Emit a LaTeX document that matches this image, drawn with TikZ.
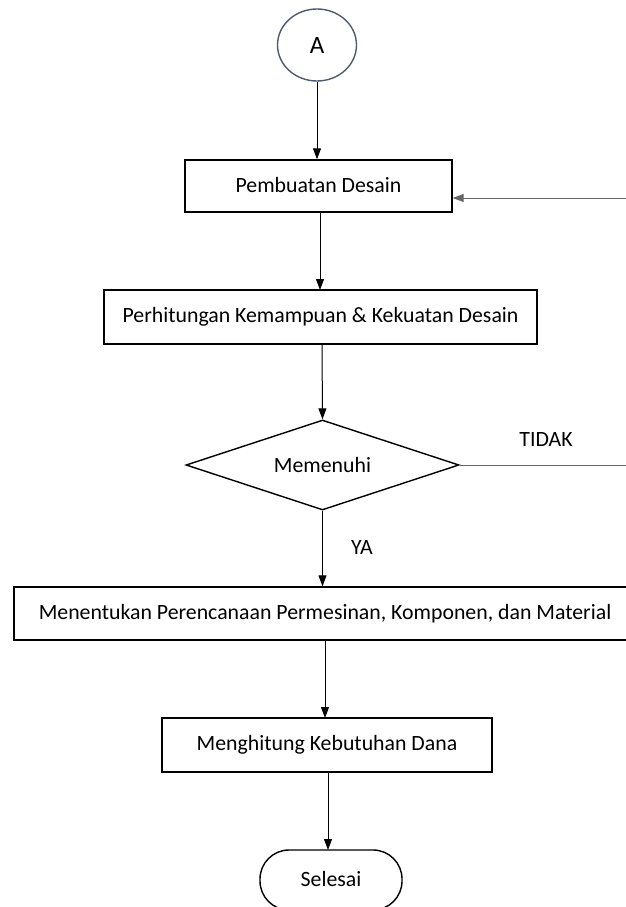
\documentclass[tikz,border=0pt]{standalone}
\usepackage{fontspec}
\setmainfont{Carlito}
\usetikzlibrary{arrows.meta,shapes.geometric}
\begin{document}
\begin{tikzpicture}[x=1pt,y=-1pt,
  every node/.style={font=\fontsize{21.8}{26}\selectfont, text=black},
  procbox/.style={draw, line width=1.4pt, rectangle, inner sep=0pt},
  flow/.style={line width=1pt, -{Triangle[length=11pt,width=8pt]}},
  plain/.style={line width=1pt, draw=black!60}]
\useasboundingbox (0,0) rectangle (626,907);
\fill[white] (0,0) rectangle (626,907);
\node[draw={rgb,255:red,80;green,92;blue,110}, line width=1.4pt, ellipse, minimum width=79pt, minimum height=72pt, inner sep=0pt, font=\fontsize{25}{30}\selectfont] (A) at (317,45) {A};
\node[procbox, minimum width=267pt, minimum height=52pt] (b1) at (318.5,186) {\raisebox{3pt}{Pembuatan Desain}};
\node[procbox, minimum width=433pt, minimum height=54pt] (b2) at (320.5,317) {\raisebox{3pt}{Perhitungan Kemampuan \& Kekuatan Desain}};
\node[draw, line width=1.4pt, diamond, aspect=3.03, minimum width=273pt, minimum height=90pt, inner sep=0pt] (d) at (322.5,465) {Memenuhi};
\node[procbox, minimum width=622pt, minimum height=53pt] (b3) at (325,613.5) {\raisebox{4pt}{Menentukan Perencanaan Permesinan, Komponen, dan Material}};
\node[procbox, minimum width=330pt, minimum height=54pt] (b4) at (327,745) {\raisebox{3pt}{Menghitung Kebutuhan Dana}};
\node[draw, line width=1.4pt, rectangle, rounded corners=29pt, minimum width=142pt, minimum height=60pt, inner sep=0pt] (e) at (331,880) {\raisebox{3pt}{Selesai}};
\node (tidak) at (546,440) {TIDAK};
\node (ya) at (362,547) {YA};
\coordinate (r1) at (626,465);
\coordinate (r2) at (626,198);
\draw[flow] (A.south) -- (A.south |- b1.north);
\draw[flow] (320,212) -- (320,290);
\draw[flow] (322,344) -- (d.north);
\draw[flow] (d.south) -- (d.south |- b3.north);
\draw[flow] (325,640) -- (325,718);
\draw[flow] (328,772) -- (328,850);
\draw[plain] (d.east) -- (r1);
\draw[flow, draw=black!60] (r2) -- (b1.east |- r2);
\end{tikzpicture}
\end{document}
